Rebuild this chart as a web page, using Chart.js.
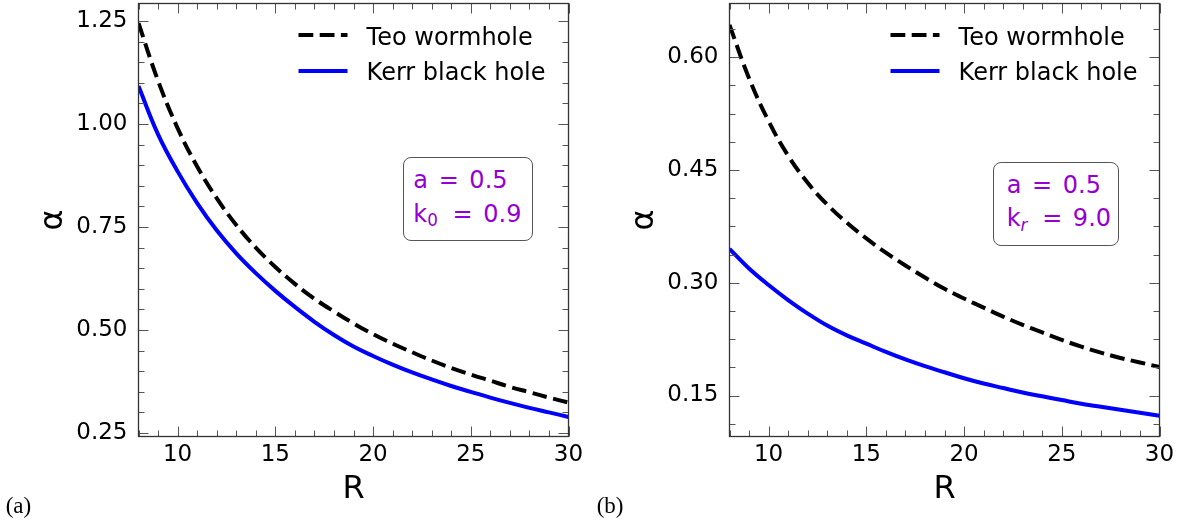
<!DOCTYPE html>
<html lang="en">
<head>
<meta charset="UTF-8">
<title>Deflection angle: Teo wormhole vs Kerr black hole</title>
<script src="https://cdn.jsdelivr.net/npm/chart.js"></script>
<style>
  body { margin: 0; background: #fff; font-family: 'DejaVu Sans', sans-serif; }
  #page { position: relative; width: 1195px; height: 527px; overflow: hidden; }
  canvas { position: absolute; top: 0; }
  .txt { position: absolute; line-height: 1; white-space: nowrap; }
  .legend { font-size: 24px; color: #000; }
  .key { position: absolute; overflow: visible; }
  .box { position: absolute; border: 1.4px solid #555; border-radius: 8px; box-sizing: border-box; background: #fff; }
  .note { font-size: 24px; color: #9400d3; word-spacing: 3px; }
  .note sub { font-size: 0.7em; vertical-align: baseline; position: relative; top: 0.25em; margin-right: 4px; }
  .panel { font-family: 'Liberation Serif', serif; font-size: 23px; color: #000; }
</style>
</head>
<body>
<div id="page">
  <canvas id="chartA" width="595" height="527" style="left:0"></canvas>
  <canvas id="chartB" width="595" height="527" style="left:591px"></canvas>

  <!-- legends -->
  <svg class="key" style="left:298px;top:25px" width="52" height="60">
    <line x1="0.5" y1="10" x2="49.5" y2="10" stroke="#000" stroke-width="4" stroke-dasharray="14.8 6.4"/>
    <line x1="0.5" y1="46" x2="49.5" y2="46" stroke="#0000ff" stroke-width="4"/>
  </svg>
  <div class="txt legend" style="left:366.6px;top:24.8px">Teo wormhole</div>
  <div class="txt legend" style="left:366.6px;top:59.9px">Kerr black hole</div>

  <svg class="key" style="left:889.5px;top:25px" width="52" height="60">
    <line x1="0.5" y1="10" x2="49.5" y2="10" stroke="#000" stroke-width="4" stroke-dasharray="14.8 6.4"/>
    <line x1="0.5" y1="46" x2="49.5" y2="46" stroke="#0000ff" stroke-width="4"/>
  </svg>
  <div class="txt legend" style="left:958.6px;top:24.8px">Teo wormhole</div>
  <div class="txt legend" style="left:958.6px;top:59.9px">Kerr black hole</div>

  <!-- parameter boxes -->
  <div class="box" style="left:402.7px;top:157.3px;width:130px;height:83.4px"></div>
  <div class="txt note" style="left:413.3px;top:168px">a = 0.5</div>
  <div class="txt note" style="left:413.3px;top:202.2px">k<sub>0</sub> = 0.9</div>

  <div class="box" style="left:993.3px;top:162.3px;width:126px;height:83.7px"></div>
  <div class="txt note" style="left:1006.7px;top:173px">a = 0.5</div>
  <div class="txt note" style="left:1006.7px;top:206.4px">k<sub><i>r</i></sub> = 9.0</div>

  <!-- panel labels -->
  <div class="txt panel" style="left:5.7px;top:493.7px">(a)</div>
  <div class="txt panel" style="left:596.7px;top:493.7px">(b)</div>
</div>

<script>
    // R grid shared by both panels
    const rValues = [8, 9, 10, 11, 12, 13, 14, 15, 16, 17, 18, 19, 20, 21, 22, 23, 24, 25, 26, 27, 28, 29, 30];

    // panel (a): a = 0.5, k0 = 0.9
    const teoA  = [1.245, 1.105, 0.990, 0.897, 0.820, 0.755, 0.700, 0.653, 0.612, 0.576, 0.545, 0.516,
                   0.490, 0.467, 0.446, 0.426, 0.408, 0.392, 0.377, 0.362, 0.349, 0.336, 0.324];
    const kerrA = [1.092, 0.975, 0.885, 0.808, 0.742, 0.686, 0.638, 0.595, 0.556, 0.520, 0.488, 0.460,
                   0.437, 0.416, 0.397, 0.380, 0.364, 0.350, 0.336, 0.323, 0.311, 0.300, 0.289];

    // panel (b): a = 0.5, kr = 9.0
    const teoB  = [0.643, 0.572, 0.515, 0.469, 0.433, 0.404, 0.380, 0.359, 0.340, 0.323, 0.307, 0.292,
                   0.279, 0.267, 0.255, 0.244, 0.234, 0.224, 0.215, 0.207, 0.200, 0.194, 0.188];
    const kerrB = [0.345, 0.319, 0.297, 0.277, 0.259, 0.243, 0.230, 0.219, 0.208, 0.198, 0.189, 0.181,
                   0.173, 0.166, 0.160, 0.154, 0.149, 0.144, 0.139, 0.135, 0.131, 0.127, 0.123];

    // tick labels
    const xTicks  = [10, 15, 20, 25, 30];
    const yTicksA = [0.25, 0.50, 0.75, 1.00, 1.25];
    const yTicksB = [0.15, 0.30, 0.45, 0.60];

    const CANVAS_W = 595;
    const PLOT_RIGHT = 568.5;

    // matplotlib-style frame with inward ticks on all four sides
    const frameTicks = {
        id: 'frameTicks',
        afterDraw(chart, args, opts) {
            const { ctx, chartArea: a, scales: { x, y } } = chart;
            ctx.save();
            ctx.strokeStyle = '#555';
            ctx.lineWidth = 1;
            const seg = (x1, y1, x2, y2) => {
                ctx.beginPath(); ctx.moveTo(x1, y1); ctx.lineTo(x2, y2); ctx.stroke();
            };
            for (let v = Math.ceil(x.min); v <= x.max; v++) {
                const len = xTicks.includes(v) ? 10 : 6;
                const px = Math.round(x.getPixelForValue(v)) + 0.5;
                seg(px, a.bottom, px, a.bottom - len);
                seg(px, a.top, px, a.top + len);
            }
            const step = opts.yMinorStep;
            const major = opts.yMajor;
            const start = major[0] - Math.floor((major[0] - y.min) / step + 1e-9) * step;
            for (let i = 0; start + i * step <= y.max + 1e-9; i++) {
                const v = start + i * step;
                const len = major.some(m => Math.abs(m - v) < 1e-6) ? 10 : 6;
                const py = Math.round(y.getPixelForValue(v)) + 0.5;
                seg(a.left, py, a.left + len, py);
                seg(a.right, py, a.right - len, py);
            }
            ctx.strokeStyle = '#333';
            ctx.lineWidth = 1.3;
            ctx.strokeRect(a.left, a.top, a.right - a.left, a.bottom - a.top);
            ctx.restore();
        }
    };

    function points(values) {
        return rValues.map((r, i) => ({ x: r, y: values[i] }));
    }

    // fixed box sizes so both plot areas sit where the reference has them
    function fixSize(prop, size) {
        return s => {
            s[prop] = size;
            s.paddingTop = 0; s.paddingBottom = 0;
            s.paddingLeft = 0; s.paddingRight = 0;
        };
    }

    function makeChart(id, teo, kerr, yMin, yMax, yTicks, yMinorStep) {
        return new Chart(document.getElementById(id), {
            type: 'line',
            data: {
                datasets: [{
                    label: 'Teo wormhole',
                    data: points(teo),
                    borderColor: '#000000',
                    borderWidth: 4,
                    borderDash: [14.8, 6.4],
                    pointRadius: 0,
                    tension: 0.4,
                    fill: false
                }, {
                    label: 'Kerr black hole',
                    data: points(kerr),
                    borderColor: '#0000ff',
                    borderWidth: 4,
                    pointRadius: 0,
                    tension: 0.4,
                    fill: false
                }]
            },
            options: {
                responsive: false,
                animation: false,
                devicePixelRatio: 1,
                layout: { padding: { left: 0, top: 3.5, right: CANVAS_W - PLOT_RIGHT, bottom: 0 } },
                plugins: {
                    legend: { display: false },
                    tooltip: { enabled: false },
                    frameTicks: { yMajor: yTicks, yMinorStep: yMinorStep }
                },
                scales: {
                    x: {
                        type: 'linear',
                        min: 8,
                        max: 30,
                        afterBuildTicks: s => { s.ticks = xTicks.map(v => ({ value: v })); },
                        afterFit: fixSize('height', 90.5),
                        grid: { display: false, drawTicks: false },
                        border: { display: false },
                        ticks: {
                            padding: 5,
                            color: '#000',
                            autoSkip: false,
                            maxRotation: 0,
                            font: { family: 'DejaVu Sans', size: 23 }
                        },
                        title: {
                            display: true,
                            text: 'R',
                            color: '#000',
                            font: { family: 'DejaVu Sans', size: 32 },
                            padding: { top: 0, bottom: 18 }
                        }
                    },
                    y: {
                        type: 'linear',
                        min: yMin,
                        max: yMax,
                        afterBuildTicks: s => { s.ticks = yTicks.map(v => ({ value: v })); },
                        afterFit: fixSize('width', 138.5),
                        grid: { display: false, drawTicks: false },
                        border: { display: false },
                        ticks: {
                            padding: 11,
                            color: '#000',
                            font: { family: 'DejaVu Sans', size: 23 },
                            callback: v => v.toFixed(2)
                        },
                        title: {
                            display: true,
                            text: 'α',
                            color: '#000',
                            font: { family: 'DejaVu Sans', size: 32 },
                            padding: { top: 34, bottom: 0 }
                        }
                    }
                }
            },
            plugins: [frameTicks]
        });
    }

    makeChart('chartA', teoA, kerrA, 0.2415, 1.2925, yTicksA, 0.05);
    makeChart('chartB', teoB, kerrB, 0.0955, 0.6715, yTicksB, 0.0375);
</script>
</body>
</html>
